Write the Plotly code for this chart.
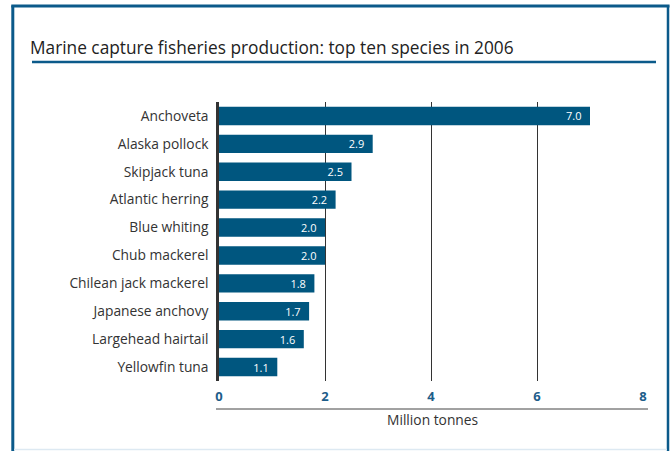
import plotly.graph_objects as go

species = ["Anchoveta", "Alaska pollock", "Skipjack tuna", "Atlantic herring",
           "Blue whiting", "Chub mackerel", "Chilean jack mackerel",
           "Japanese anchovy", "Largehead hairtail", "Yellowfin tuna"]
production = [7.0, 2.9, 2.5, 2.2, 2.0, 2.0, 1.8, 1.7, 1.6, 1.1]
x_ticks = [0, 2, 4, 6, 8]

title_text = "Marine capture fisheries production: top ten species in 2006"
axis_title = "Million tonnes"

W, H = 670, 451
L, R, T, B = 219, 643, 102, 381  # plot area in pixels

def px(x):
    return (x - L) / (R - L)

def py(y):
    return (B - y) / (B - T)

BLUE = "#00567f"
FRAME = "#0b5a8a"
FONT = "Open Sans"

fig = go.Figure(go.Bar(
    x=production,
    y=species,
    orientation="h",
    marker=dict(color=BLUE, line=dict(width=0)),
    text=[f"{v:.1f}\u2002" for v in production],
    textposition="inside",
    insidetextanchor="end",
    textfont=dict(color="white", size=11, family=FONT),
    cliponaxis=False,
    hoverinfo="skip",
))

fig.update_layout(
    width=W, height=H,
    margin=dict(l=L, r=W - R, t=T, b=H - B, pad=0),
    paper_bgcolor="white",
    plot_bgcolor="white",
    bargap=0.34,
    showlegend=False,
    uniformtext=dict(minsize=11, mode="show"),
    font=dict(family=FONT, color="#333333"),
    xaxis=dict(
        range=[0, 8],
        tickvals=x_ticks,
        ticktext=[f"<b>{t}</b>" for t in x_ticks],
        tickfont=dict(size=13, color="#1d5d8a", family=FONT),
        showgrid=True,
        gridcolor="#333333",
        gridwidth=1,
        zeroline=False,
        showline=False,
        ticks="",
        ticklabelstandoff=6,
        fixedrange=True,
    ),
    yaxis=dict(
        autorange="reversed",
        tickfont=dict(size=13.8, color="#333333", family=FONT),
        showgrid=False,
        zeroline=False,
        showline=True,
        linecolor="#333333",
        linewidth=2.5,
        ticks="",
        ticklabelstandoff=5,
        fixedrange=True,
    ),
)

shapes = []
# frame
shapes.append(dict(type="line", xref="paper", yref="paper",
                   x0=px(12.8), x1=px(12.8), y0=py(5.5), y1=py(451), line=dict(color=FRAME, width=3)))
shapes.append(dict(type="line", xref="paper", yref="paper",
                   x0=px(11.3), x1=px(669.5), y0=py(6), y1=py(6), line=dict(color=FRAME, width=3)))
shapes.append(dict(type="line", xref="paper", yref="paper",
                   x0=px(668), x1=px(668), y0=py(5.5), y1=py(451), line=dict(color=FRAME, width=2.5)))
shapes.append(dict(type="line", xref="paper", yref="paper",
                   x0=px(14), x1=px(667), y0=py(449.5), y1=py(449.5), line=dict(color="#dde9f2", width=1.5)))
# title underline
shapes.append(dict(type="line", xref="paper", yref="paper",
                   x0=px(32), x1=px(656), y0=py(62), y1=py(62), line=dict(color=FRAME, width=2.5)))
# axis rule under tick labels
shapes.append(dict(type="line", xref="paper", yref="paper",
                   x0=px(216), x1=px(648), y0=py(409), y1=py(409), line=dict(color="#444444", width=1)))
fig.update_layout(shapes=shapes)

fig.add_annotation(text=title_text, xref="paper", yref="paper",
                   x=px(28), y=py(47), xanchor="left", yanchor="middle",
                   showarrow=False, font=dict(size=17.3, color="#222222", family=FONT))
fig.add_annotation(text=axis_title, xref="paper", yref="paper",
                   x=px(432), y=py(420), xanchor="center", yanchor="middle",
                   showarrow=False, font=dict(size=13.8, color="#333333", family=FONT))

fig.write_html("out.html")
